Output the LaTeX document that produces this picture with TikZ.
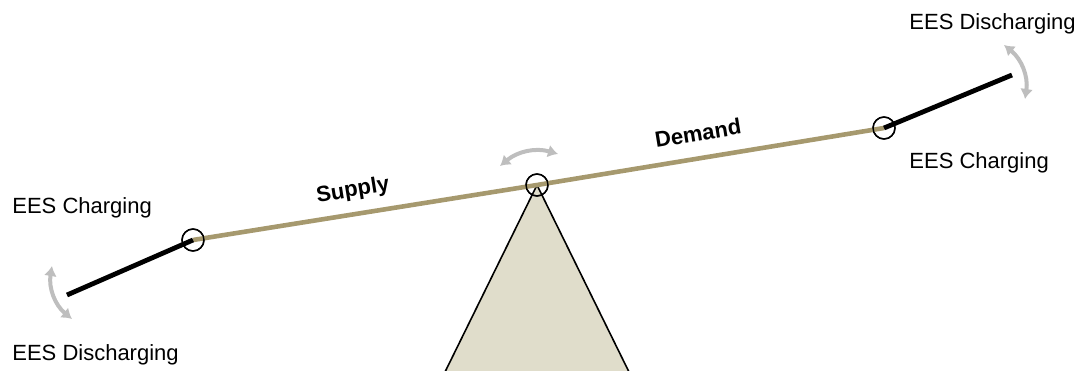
\documentclass[tikz,border=0pt]{standalone}
\usepackage{fontspec}
\setmainfont{Liberation Sans}
\usepackage{tikz}
\usetikzlibrary{positioning, arrows.meta, calc}
\definecolor{BeamTan}{RGB}{166, 153, 110}
\definecolor{BaseFill}{RGB}{224, 221, 203}
\definecolor{SwingGray}{RGB}{190, 190, 190}

\begin{document}
\begin{tikzpicture}[
    x=0.5pt, y=-0.5pt,
    hinge/.style={circle, draw=black, line width=0.7pt, minimum size=11pt, inner sep=0pt},
    beam/.style={BeamTan, line width=2.3pt},
    arm/.style={black, line width=2.4pt},
    swing/.style={{Latex[length=5pt,width=6.5pt]}-{Latex[length=5pt,width=6.5pt]}, SwingGray, line width=2pt},
    label/.style={font=\fontsize{11}{13}\selectfont, inner sep=0pt},
    side/.style={font=\fontsize{11}{13}\selectfont\bfseries, inner sep=0pt, rotate=9.2}
  ]
    \useasboundingbox (0,0) rectangle (1087,370);

    % Fulcrum
    \coordinate (apex) at (537,185);
    \coordinate (baseL) at (445,372);
    \coordinate (baseR) at (629,372);
    \draw[fill=BaseFill, line width=0.8pt] (baseL) -- (apex) -- (baseR);

    % Hinges
    \node[hinge] (pivot) at (537,185) {};
    \node[hinge] (hl) at (193,240) {};
    \node[hinge] (hr) at (884,128) {};

    % Arm ends
    \coordinate (el) at (67,295);
    \coordinate (er) at (1012,75);

    % Beam
    \draw[beam] (hl.center) -- (pivot.center) -- (hr.center);
    \draw[arm] (el) -- (hl.center);
    \draw[arm] (hr.center) -- (er);
    \node[hinge] at (pivot) {};
    \node[hinge] at (hl) {};
    \node[hinge] at (hr) {};

    % Swing arrows
    \coordinate (sl1) at (52,266);
    \coordinate (sl2) at (72,319);
    \coordinate (sr1) at (1004,45);
    \coordinate (sr2) at (1025,99);
    \coordinate (sp1) at (500,166);
    \coordinate (sp2) at (558,154);
    \draw[swing] (sl1) to[bend right=30] (sl2);
    \draw[swing] (sr1) to[bend left=30] (sr2);
    \draw[swing] (sp1) to[bend left=28] (sp2);

    % Labels
    \node[label, anchor=west] (lcharge) at (12,208) {EES Charging};
    \node[label, anchor=west] (ldischarge) at (12,355) {EES Discharging};
    \node[label, anchor=west] (rdischarge) at (909,24) {EES Discharging};
    \node[label, anchor=west] (rcharge) at (909,163) {EES Charging};

    % Sides of the beam
    \node[side] (supply) at (353,191) {Supply};
    \node[side] (demand) at (698,133) {Demand};
  \end{tikzpicture}
\end{document}
